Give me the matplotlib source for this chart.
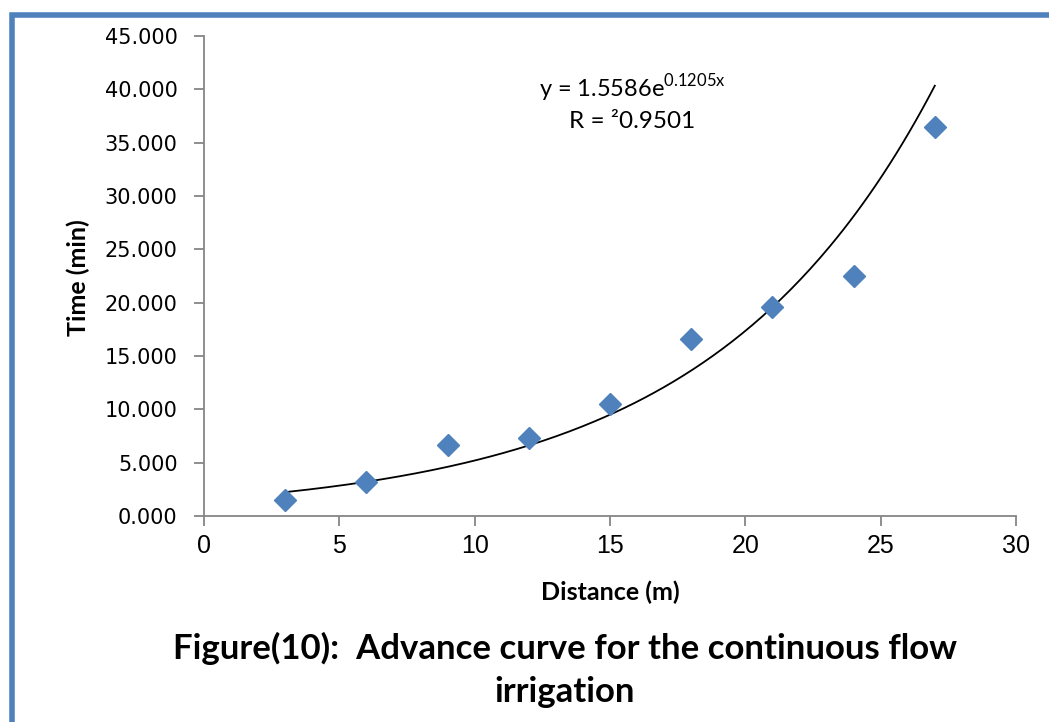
import numpy as np
import matplotlib
matplotlib.use("Agg")
import matplotlib.pyplot as plt
from matplotlib.patches import Rectangle

distance = [3, 6, 9, 12, 15, 18, 21, 24, 27]
time_min = [1.5, 3.2, 6.65, 7.3, 10.5, 16.6, 19.6, 22.5, 36.45]
fit_a = 1.5586
fit_b = 0.1205
x_ticks = [0, 5, 10, 15, 20, 25, 30]
y_ticks = [0, 5, 10, 15, 20, 25, 30, 35, 40, 45]

plt.rcParams['font.family'] = ['Lato', 'DejaVu Sans']

fig = plt.figure(figsize=(10.49, 7.22), dpi=100)
ax = fig.add_axes([204/1049, 1-516/722, (1016-204)/1049, (516-36)/722])

blue = '#4F81BD'
ax.plot(distance, time_min, linestyle='none', marker='D', markersize=11,
        color=blue, zorder=3)
xs = np.linspace(min(distance), max(distance), 200)
ax.plot(xs, fit_a*np.exp(fit_b*xs), color='black', lw=1.3, zorder=2)

ax.set_xlim(0, 30)
ax.set_ylim(0, 45)
ax.set_xticks(x_ticks)
ax.set_yticks(y_ticks)
ax.set_yticklabels([f"{v:.3f}" for v in y_ticks], family='DejaVu Sans', fontsize=15)
ax.set_xticklabels([str(v) for v in x_ticks], family='Liberation Sans', fontsize=18)
for s in ['top', 'right']:
    ax.spines[s].set_visible(False)
for s in ['left', 'bottom']:
    ax.spines[s].set_color('#868686')
    ax.spines[s].set_linewidth(1.3)
ax.tick_params(axis='both', colors='#868686', length=7, width=1.3,
               labelcolor='black')
ax.tick_params(axis='y', pad=12)
ax.tick_params(axis='x', pad=6)

ax.set_xlabel('Distance (m)', fontsize=18, fontweight='bold')
ax.set_ylabel('Time (min)', fontsize=18, fontweight='bold')
ax.xaxis.set_label_coords((610-204)/(1016-204), -(581-516)/(516-36))
ax.yaxis.set_label_coords(-(204-90)/(1016-204), (516-278)/(516-36))

fig.text(632/1049, 1-88/722, r'y = 1.5586e$^{\mathregular{0.1205x}}$', fontsize=17,
         ha='center', va='center')
fig.text(632/1049, 1-121/722, 'R = ²0.9501', fontsize=17.5, ha='center', va='center')

fig.text(565/1049, 1-648/722, 'Figure(10):  Advance curve for the continuous flow',
         fontsize=25, fontweight='bold', ha='center', va='center')
fig.text(565/1049, 1-692/722, 'irrigation',
         fontsize=25, fontweight='bold', ha='center', va='center')

# blue frame (left and top edges visible)
fig.add_artist(Rectangle((12/1049, -0.05), 1.2, 1-15/722+0.05, transform=fig.transFigure,
                         fill=False, edgecolor=blue, linewidth=4, zorder=0))

fig.savefig('out.png', dpi=100)
